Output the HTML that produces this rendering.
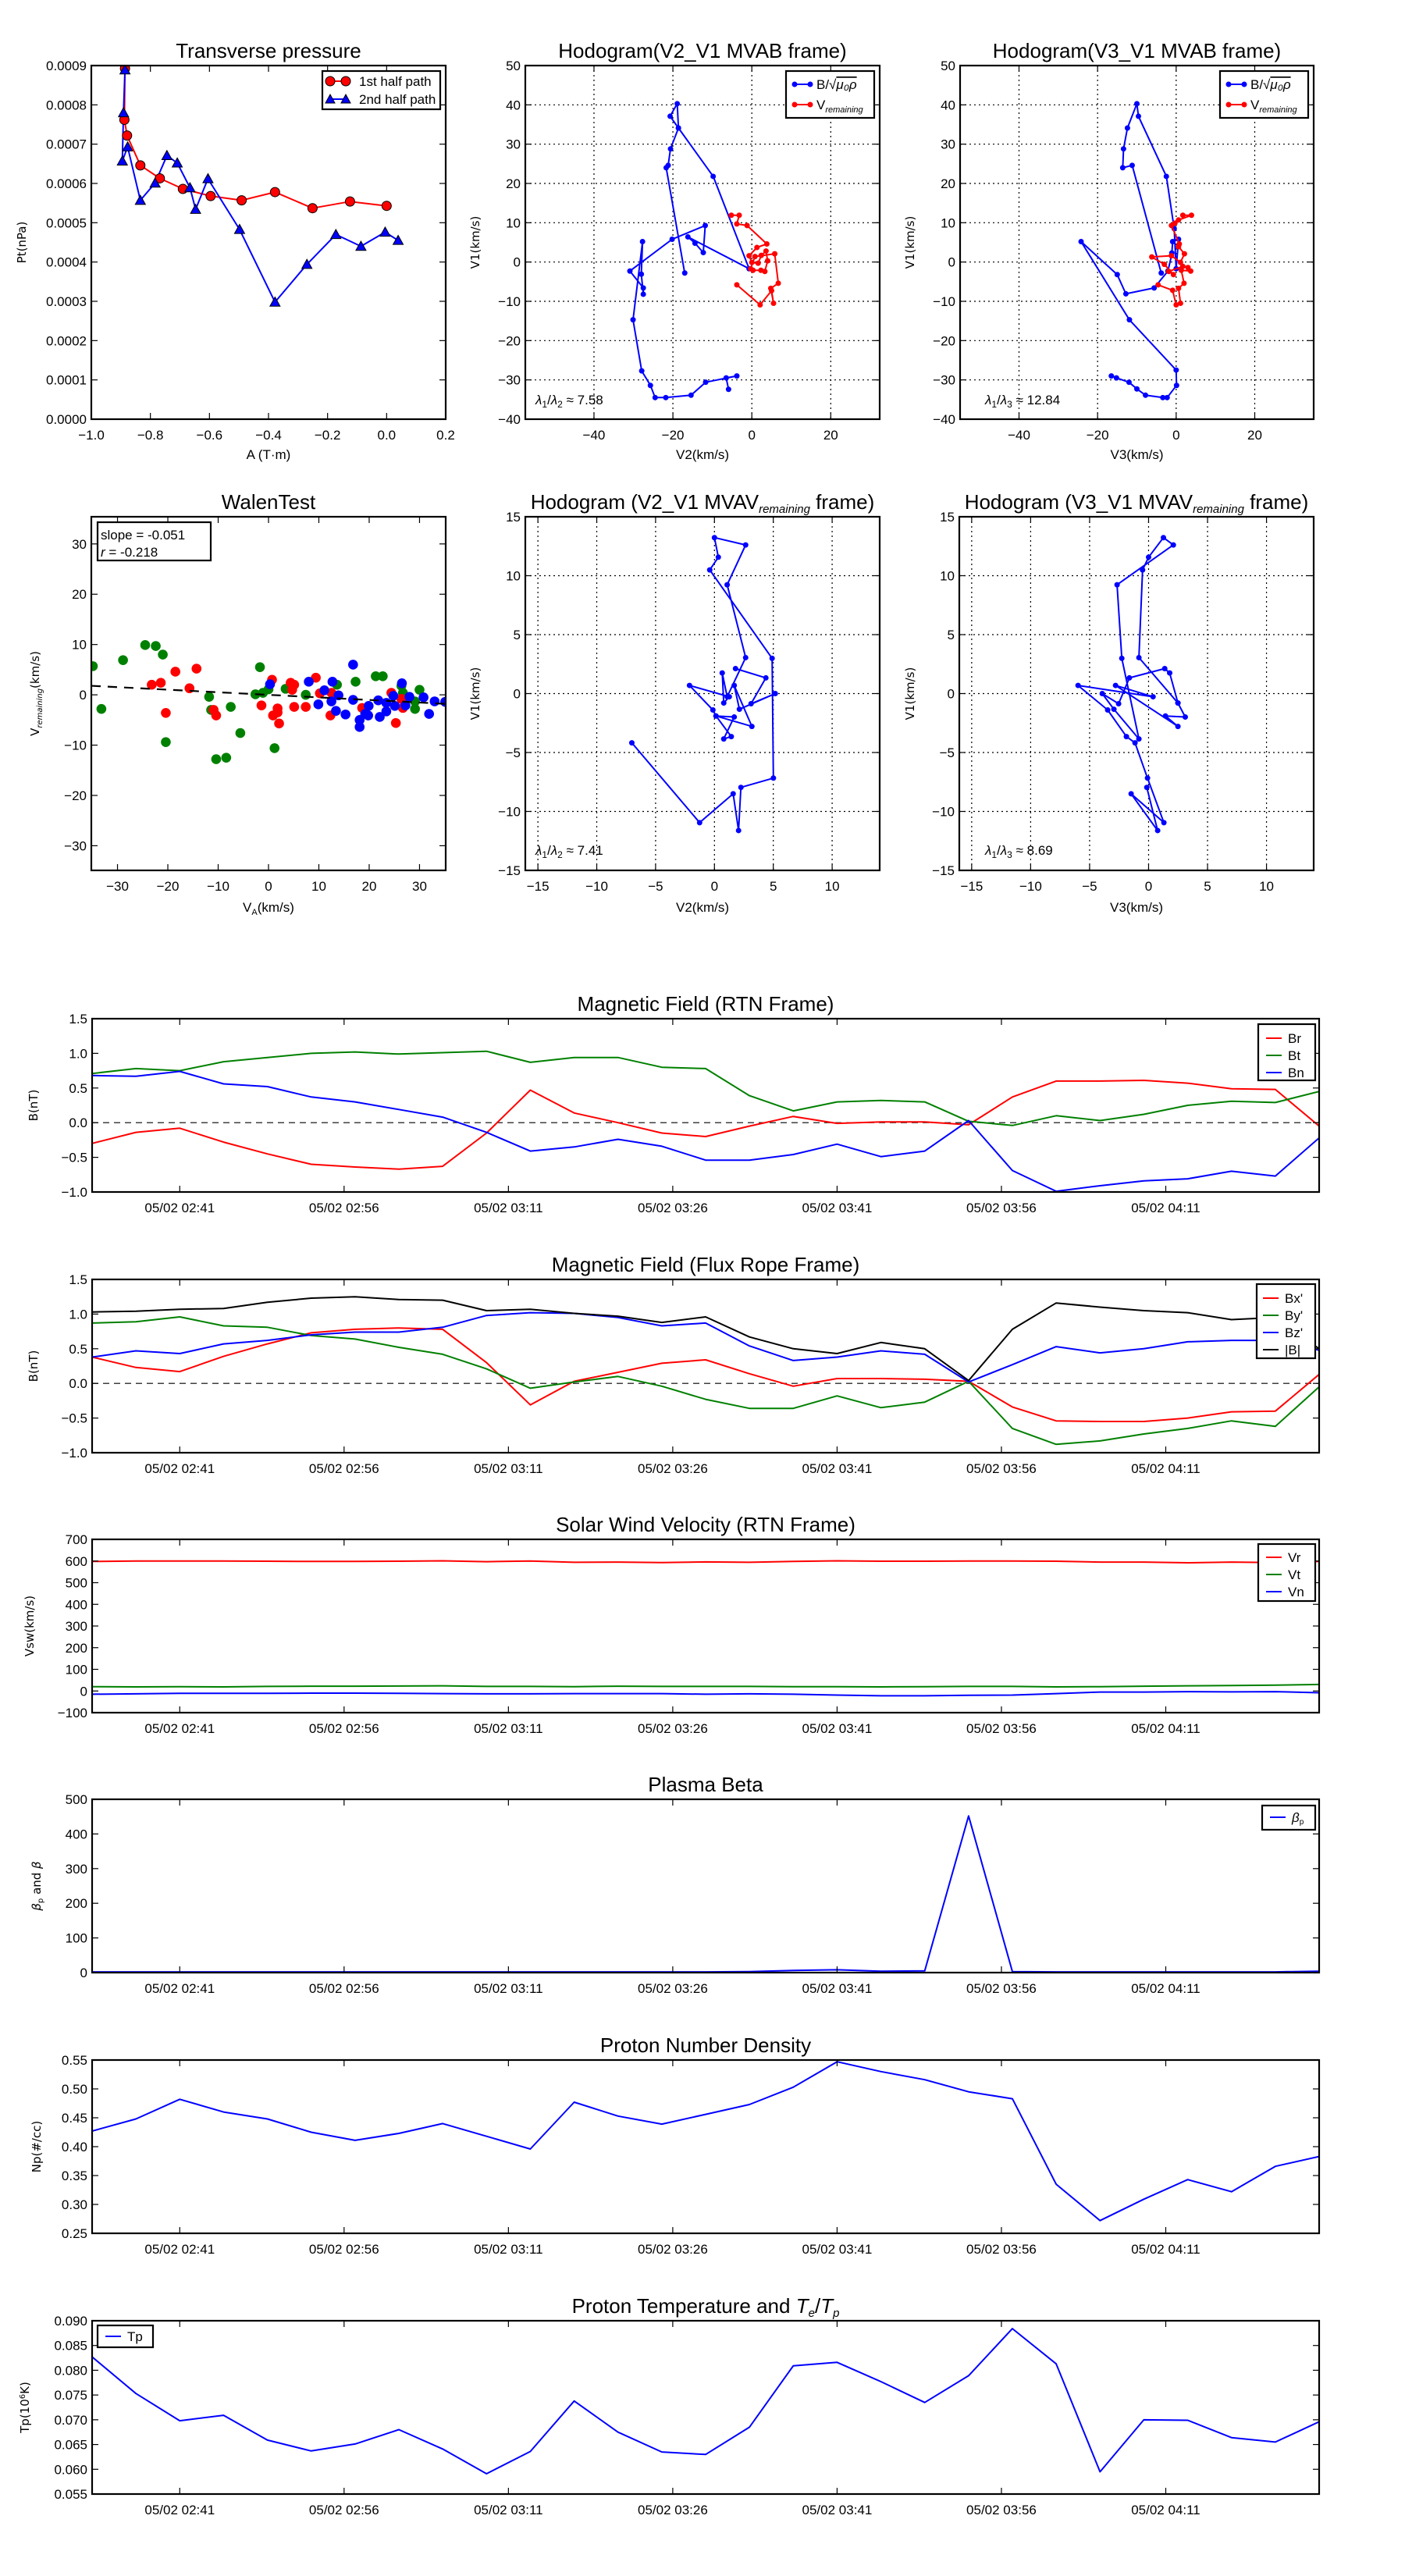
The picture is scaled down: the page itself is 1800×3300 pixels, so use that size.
<!DOCTYPE html>
<html><head><meta charset="utf-8"><title>Flux rope analysis</title>
<style>
html,body{margin:0;padding:0;background:#fff;}
svg{display:block;}
.tk{font-family:"Liberation Sans Narrow","Liberation Sans",sans-serif;font-size:17px;fill:#000;}
.ttl{font-family:"Liberation Sans Narrow","Liberation Sans",sans-serif;font-size:26px;fill:#000;}
.lbl{font-family:"DejaVu Sans","Liberation Sans",sans-serif;font-size:15px;fill:#000;}
.lg{font-family:"Liberation Sans Narrow","Liberation Sans",sans-serif;font-size:17px;fill:#000;}
</style></head>
<body>
<svg id="fig" xmlns="http://www.w3.org/2000/svg" width="1800" height="3300" viewBox="0 0 1800 3300">
<rect x="0" y="0" width="1800" height="3300" fill="#fff"/>
</svg>
<script>
// ---------- DATA ----------
const ptRedA=[-0.886,-0.888,-0.879,-0.834,-0.768,-0.690,-0.596,-0.491,-0.378,-0.251,-0.124,0.0];
const ptRedP=[0.000893,0.000762,0.000722,0.000646,0.000613,0.000586,0.000568,0.000557,0.000578,0.000537,0.000554,0.000543];
const ptBlueA=[-0.886,-0.891,-0.895,-0.877,-0.834,-0.784,-0.744,-0.709,-0.666,-0.647,-0.605,-0.498,-0.378,-0.270,-0.172,-0.087,-0.005,0.039];
const ptBlueP=[0.000889,0.000780,0.000657,0.000693,0.000557,0.000601,0.000671,0.000652,0.000589,0.000534,0.000612,0.000483,0.000298,0.000394,0.000470,0.000440,0.000476,0.000455];

const h1Bx=[-17.0,-21.7,-21.2,-20.6,-18.6,-18.9,-20.7,-18.6,-9.8,-0.7,-16.2,-14.4,-12.3,-11.8,-20.2,-30.9,-27.5,-27.5,-28.0,-27.7,-30.1,-27.9,-25.7,-24.5,-21.8,-15.4,-11.7,-3.8,-6.5,-5.9];
const h1By=[-2.8,24.0,24.6,28.8,34.1,40.3,37.1,34.1,21.8,-1.7,6.4,4.8,2.4,9.3,5.8,-2.3,-6.6,-8.2,-3.1,5.2,-14.7,-27.7,-31.4,-34.5,-34.5,-33.9,-30.6,-29.0,-29.5,-32.4];
const h1Vx=[-5.2,-3.2,-3.8,-1.2,3.8,1.3,-0.7,0.0,1.6,2.4,3.6,4.0,3.3,2.3,0.3,-0.3,0.8,5.8,6.7,4.8,5.5,5.0,2.1,-3.8];
const h1Vy=[11.9,11.9,9.7,9.3,4.6,3.7,1.6,-0.1,-0.3,1.7,2.8,0.3,-2.4,-2.1,-2.1,-1.7,1.4,2.1,-5.4,-6.7,-10.5,-7.3,-10.9,-5.8];

const h2Bx=[-16.5,-15.2,-12.0,-10.0,-7.8,-3.4,-2.3,0.1,0.0,-11.9,-24.2,-15.0,-12.8,-5.6,-2.1,-1.2,-1.1,-0.9,0.6,0.0,-0.5,-2.5,-9.6,-10.0,-12.4,-13.4,-13.6,-11.2,-3.8];
const h2By=[-29.0,-29.5,-30.6,-32.3,-33.9,-34.5,-34.5,-31.4,-27.5,-14.7,5.2,-3.2,-8.1,-6.6,-2.3,1.6,2.3,5.2,5.8,-1.7,8.5,21.8,37.1,40.3,34.1,28.8,24.0,24.6,-2.8];
const h2Vx=[1.7,3.9,0.6,-0.3,-1.2,0.8,0.6,2.1,1.1,-1.2,-6.2,-3.0,-0.7,-1.9,1.7,3.0,3.7,1.3,2.0,0.6,1.1,0.0,-0.9,-4.6];
const h2Vy=[11.9,11.9,10.7,9.9,9.3,4.6,3.9,2.1,-0.1,1.6,1.3,-0.6,-3.2,-2.4,-1.1,-1.4,-2.3,-2.1,-5.4,-6.7,-10.5,-10.9,-7.2,-5.8];

const wGx=[-34.9,-33.2,-28.9,-24.5,-22.4,-21.0,-20.4,-11.8,-11.4,-10.4,-8.4,-7.5,-5.6,-2.6,-1.7,-1.1,0.0,1.2,3.4,7.4,13.6,17.3,21.3,22.7,26.4,26.7,29.1,29.1,30.0];
const wGy=[5.7,-2.8,6.9,9.9,9.7,8.0,-9.4,-0.4,-3.0,-12.8,-12.5,-2.4,-7.6,0.1,5.5,0.4,1.1,-10.6,1.2,0.0,2.0,2.6,3.7,3.7,1.8,0.4,-1.3,-2.8,1.0];
const wRx=[-23.2,-21.4,-20.4,-18.5,-15.7,-14.3,-10.9,-10.4,-1.4,0.7,0.9,1.8,1.8,2.1,4.4,4.7,5.1,5.1,7.4,9.4,10.2,12.3,12.5,18.6,24.4,25.3,26.4,26.7];
const wRy=[2.0,2.4,-3.6,4.6,1.3,5.2,-3.0,-4.1,-2.1,3.0,-4.1,-2.7,-3.5,-5.7,2.4,1.0,2.0,-2.4,-2.4,3.4,0.3,-4.1,0.4,-2.6,0.4,-5.6,-0.8,-2.6];
const wBx=[0.3,8.0,9.9,11.1,12.5,12.7,13.4,13.9,15.3,16.8,16.8,18.1,18.1,19.2,19.8,19.9,21.8,22.1,23.4,23.4,24.8,25.1,26.5,27.2,28.0,30.8,31.9,33.0,35.1];
const wBy=[2.1,2.6,-1.9,0.9,-1.3,2.6,-3.2,-0.1,-3.9,6.0,-1.0,-5.0,-6.4,-3.8,-4.1,-2.2,-1.1,-4.4,-1.6,-3.3,-0.2,-2.2,2.3,-2.1,-0.4,-0.5,-3.8,-1.3,-1.4];
const wSlope=-0.051;
const wIntercept=0.0;

const h3x=[-7.02,-1.26,1.59,2.05,2.25,5.01,4.90,-0.40,0.33,0.00,2.65,1.08,2.65,1.08,0.66,0.79,1.26,-2.12,-0.13,0.13,1.43,0.79,1.68,0.13,3.18,1.68,2.12,5.17,3.11,4.37,1.79];
const h3y=[-4.18,-10.95,-8.50,-11.62,-7.96,-7.17,2.99,10.49,11.57,13.23,12.61,9.23,3.05,-0.27,1.75,-0.80,-0.27,0.69,-1.39,-1.90,-3.65,-3.85,-1.99,-1.90,-2.79,0.69,-1.33,0.0,-0.86,1.33,2.12];
const h4x=[-0.15,0.77,-1.48,1.30,-0.09,-1.15,-1.88,-3.47,-5.98,0.38,-2.80,2.49,1.43,3.11,2.49,1.79,1.37,-1.63,-2.54,-3.93,-2.94,-0.82,-2.27,-2.67,2.10,1.26,0.00,-0.51,-0.82,2.49];
const h4y=[-7.96,-11.62,-8.50,-10.95,-7.17,-4.18,-3.65,-1.39,0.69,-0.27,0.69,-2.79,-1.90,-1.99,-0.80,1.75,2.12,1.33,-0.86,0.0,-1.33,-3.85,2.99,9.23,12.61,13.23,11.57,10.49,3.05,-0.80];

const times=[0,4,8,12,16,20,24,28,32,36,40,44,48,52,56,60,64,68,72,76,80,84,88,92,96,100,104,108,112];
const timeTicks=[8,23,38,53,68,83,98];
const timeLabels=["05/02 02:41","05/02 02:56","05/02 03:11","05/02 03:26","05/02 03:41","05/02 03:56","05/02 04:11"];

const Br=[-0.3,-0.14,-0.08,-0.28,-0.45,-0.6,-0.64,-0.67,-0.63,-0.15,0.47,0.14,0.0,-0.15,-0.2,-0.05,0.09,-0.01,0.01,0.01,-0.03,0.37,0.6,0.6,0.61,0.57,0.49,0.48,-0.05];
const Bt=[0.71,0.78,0.75,0.88,0.94,1.0,1.02,0.99,1.01,1.03,0.87,0.94,0.94,0.8,0.78,0.39,0.17,0.3,0.32,0.3,0.02,-0.04,0.1,0.03,0.12,0.25,0.31,0.29,0.45];
const Bn=[0.68,0.67,0.74,0.56,0.52,0.37,0.3,0.19,0.08,-0.14,-0.41,-0.35,-0.24,-0.34,-0.54,-0.54,-0.46,-0.31,-0.49,-0.41,0.03,-0.69,-0.99,-0.91,-0.84,-0.81,-0.7,-0.77,-0.22];

const Bxp=[0.38,0.23,0.17,0.39,0.57,0.73,0.78,0.8,0.78,0.3,-0.31,0.03,0.16,0.29,0.34,0.14,-0.04,0.07,0.07,0.06,0.03,-0.34,-0.54,-0.55,-0.55,-0.5,-0.41,-0.4,0.13];
const Byp=[0.87,0.89,0.96,0.83,0.81,0.69,0.64,0.52,0.42,0.21,-0.07,0.02,0.1,-0.04,-0.23,-0.36,-0.36,-0.18,-0.35,-0.27,0.03,-0.65,-0.88,-0.83,-0.73,-0.65,-0.54,-0.62,-0.05];
const Bzp=[0.38,0.47,0.43,0.57,0.62,0.7,0.74,0.74,0.81,0.98,1.02,1.01,0.95,0.83,0.87,0.54,0.33,0.38,0.47,0.42,0.02,0.27,0.53,0.44,0.5,0.6,0.62,0.62,0.48];
const Bmag=[1.03,1.04,1.07,1.08,1.17,1.23,1.25,1.21,1.2,1.05,1.07,1.01,0.97,0.88,0.96,0.67,0.5,0.43,0.59,0.5,0.04,0.78,1.16,1.1,1.05,1.02,0.92,0.95,0.5];

const Vr=[598,600,600,600,599,598,598,599,601,597,600,594,595,593,596,594,598,601,599,599,600,600,599,595,595,592,595,593,598];
const Vt=[20,19,20,19,21,22,22,23,24,21,21,20,22,21,21,21,20,20,19,20,21,21,19,20,22,24,25,27,30];
const Vn=[-15,-13,-11,-11,-11,-10,-10,-11,-12,-13,-13,-12,-12,-12,-15,-13,-15,-19,-22,-22,-20,-19,-12,-5,-5,-3,-4,-3,-8];

const betaP=[2,2,2,2,2,2,2,2,2,2,2,2,2,2,2,3,6,8,4,5,452,3,2,2,2,2,2,2,4];
const Np=[0.427,0.448,0.482,0.46,0.448,0.425,0.411,0.423,0.44,0.418,0.396,0.477,0.453,0.439,0.456,0.473,0.503,0.547,0.53,0.516,0.495,0.483,0.335,0.272,0.309,0.343,0.322,0.366,0.383];
const Tp=[0.0827,0.0753,0.0698,0.0709,0.0659,0.0637,0.0651,0.0680,0.0641,0.0591,0.0636,0.0738,0.0675,0.0635,0.0630,0.0685,0.0809,0.0816,0.0777,0.0735,0.0789,0.0884,0.0813,0.0595,0.0700,0.0699,0.0664,0.0655,0.0696];

// ---------- HELPERS ----------
const NS="http://www.w3.org/2000/svg";
const fig=document.getElementById('fig');
function el(tag,attrs,parent){const e=document.createElementNS(NS,tag);for(const k in attrs)e.setAttribute(k,attrs[k]);(parent||fig).appendChild(e);return e;}
function fmt(v,d){const s=Math.abs(v).toFixed(d);return (v<-1e-12?'\u2212':'')+s;}

function axes(c){
  const g=el('g',{});
  
  
  const sx=v=>c.x0+(v-c.xmin)/(c.xmax-c.xmin)*c.w;
  const sy=v=>c.y0+c.h-(v-c.ymin)/(c.ymax-c.ymin)*c.h;
  if(c.grid){
    c.xt.forEach(v=>{const l=el('line',{x1:sx(v),x2:sx(v),y1:c.y0,y2:c.y0+c.h,stroke:'#000','stroke-width':1.2,'stroke-dasharray':'2,4'},g);
      
      });
    c.yt.forEach(v=>{const l=el('line',{x1:c.x0,x2:c.x0+c.w,y1:sy(v),y2:sy(v),stroke:'#000','stroke-width':1.2,'stroke-dasharray':'2,4'},g);
      
      });
  }
  const clip=el('clipPath',{id:'clip-'+c.name},g);
  el('rect',{x:c.x0,y:c.y0,width:c.w,height:c.h},clip);
  const plot=el('g',{'clip-path':'url(#clip-'+c.name+')'},g);
  
  
  c.xt.forEach((v,i)=>{
    const X=sx(v);
    el('line',{x1:X,x2:X,y1:c.y0+c.h,y2:c.y0+c.h-8,stroke:'#000','stroke-width':1.2},g);
    el('line',{x1:X,x2:X,y1:c.y0,y2:c.y0+8,stroke:'#000','stroke-width':1.2},g);
    const t=el('text',{x:X,y:c.y0+c.h+26,'text-anchor':'middle',class:'tk'},g);
    t.textContent=c.xl[i];
    
    
  });
  c.yt.forEach((v,i)=>{
    const Y=sy(v);
    el('line',{x1:c.x0,x2:c.x0+8,y1:Y,y2:Y,stroke:'#000','stroke-width':1.2},g);
    el('line',{x1:c.x0+c.w,x2:c.x0+c.w-8,y1:Y,y2:Y,stroke:'#000','stroke-width':1.2},g);
    const t=el('text',{x:c.x0-6,y:Y+6,'text-anchor':'end',class:'tk'},g);
    t.textContent=c.yl[i];
    
    
  });
  const fr=el('rect',{x:c.x0,y:c.y0,width:c.w,height:c.h,fill:'none',stroke:'#000','stroke-width':2.2},g);
  
  
  if(c.title){const t=el('text',{x:c.x0+c.w/2,y:c.y0-10,'text-anchor':'middle',class:'ttl'},g);
    t.innerHTML=c.title;
    
    }
  if(c.xlabel){const t=el('text',{x:c.x0+c.w/2,y:c.xly,'text-anchor':'middle',class:'tk'},g);
    t.innerHTML=c.xlabel;
    
    }
  if(c.ylabel){const cy=c.y0+c.h/2;const t=el('text',{x:c.ylx,y:cy,'text-anchor':'middle',class:'lbl',transform:'rotate(-90 '+c.ylx+' '+cy+')'},g);
    t.innerHTML=c.ylabel;
    
    }
  return {sx,sy,g:plot,root:g};
}
function polyline(ax,xs,ys,color,name,w){
  const pts=xs.map((x,i)=>ax.sx(x).toFixed(1)+','+ax.sy(ys[i]).toFixed(1)).join(' ');
  const p=el('polyline',{points:pts,fill:'none',stroke:color,'stroke-width':w||2,'stroke-linejoin':'round'},ax.g);
  
  
  return p;
}
function dots(ax,xs,ys,color,r,name,stroke){
  xs.forEach((x,i)=>{
    const d=el('circle',{cx:ax.sx(x),cy:ax.sy(ys[i]),r:r,fill:color,stroke:stroke||'none','stroke-width':1},ax.g);
    
    
  });
}
function tris(ax,xs,ys,color,s,name){
  xs.forEach((x,i)=>{
    const X=ax.sx(x),Y=ax.sy(ys[i]);
    const t=el('polygon',{points:`${X},${Y-s} ${X-s},${Y+s*0.8} ${X+s},${Y+s*0.8}`,fill:color,stroke:'#000','stroke-width':1},ax.g);
    
    
  });
}
function legendBox(x,y,w,h,name){
  const r=el('rect',{x:x,y:y,width:w,height:h,fill:'#fff',stroke:'#000','stroke-width':2.2});
  
  
}
function legendEntry(x,y,color,label,marker){
  el('line',{x1:x,x2:x+20,y1:y,y2:y,stroke:color,'stroke-width':2});
  if(marker==='dot'){el('circle',{cx:x,cy:y,r:3.5,fill:color});el('circle',{cx:x+20,cy:y,r:3.5,fill:color});}
  const t=el('text',{x:x+28,y:y+6,class:'lg'});
  t.innerHTML=label;
  
  
}

// ---------- TOP ROW ----------
const a1=axes({name:'transverse-pressure-chart',x0:117,y0:84,w:454,h:453,xmin:-1,xmax:0.2,ymin:0,ymax:0.0009,
  xt:[-1,-0.8,-0.6,-0.4,-0.2,0,0.2],xl:['\u22121.0','\u22120.8','\u22120.6','\u22120.4','\u22120.2','0.0','0.2'],
  yt:[0,0.0001,0.0002,0.0003,0.0004,0.0005,0.0006,0.0007,0.0008,0.0009],
  yl:['0.0000','0.0001','0.0002','0.0003','0.0004','0.0005','0.0006','0.0007','0.0008','0.0009'],
  title:'Transverse pressure',xlabel:'A (T\u00b7m)',xly:588,ylabel:'Pt(nPa)',ylx:33});
polyline(a1,ptRedA,ptRedP,'#f00','first-half-path-line',2);
polyline(a1,ptBlueA,ptBlueP,'#00f','second-half-path-line',2);
dots(a1,ptRedA,ptRedP,'#f00',6,'first-half-marker','#000');
tris(a1,ptBlueA,ptBlueP,'#00f',6.5,'second-half-marker');
legendBox(413,91,151,49,'pressure-legend');
el('line',{x1:423,x2:443,y1:104,y2:104,stroke:'#f00','stroke-width':2});
el('circle',{cx:423,cy:104,r:6,fill:'#f00',stroke:'#000'});el('circle',{cx:443,cy:104,r:6,fill:'#f00',stroke:'#000'});
{const t=el('text',{x:460,y:110,class:'lg'});t.textContent='1st half path';

}
el('line',{x1:423,x2:443,y1:127,y2:127,stroke:'#00f','stroke-width':2});
el('polygon',{points:'423,121 417,132 429,132',fill:'#00f',stroke:'#000'});el('polygon',{points:'443,121 437,132 449,132',fill:'#00f',stroke:'#000'});
{const t=el('text',{x:460,y:133,class:'lg'});t.textContent='2nd half path';

}

const hodoTicksY=[-40,-30,-20,-10,0,10,20,30,40,50];
const hodoLblY=hodoTicksY.map(v=>fmt(v,0));
const a2=axes({name:'hodogram-v2-v1-mvab',x0:673,y0:84,w:454,h:453,xmin:-57.4,xmax:32.4,ymin:-40,ymax:50,grid:true,
  xt:[-40,-20,0,20],xl:['\u221240','\u221220','0','20'],yt:hodoTicksY,yl:hodoLblY,
  title:'Hodogram(V2_V1 MVAB frame)',xlabel:'V2(km/s)',xly:588,ylabel:'V1(km/s)',ylx:614});
polyline(a2,h1Bx,h1By,'#00f','b-hodogram-line',2);dots(a2,h1Bx,h1By,'#00f',3.5,'b-hodogram-point');
polyline(a2,h1Vx,h1Vy,'#f00','v-hodogram-line',2);dots(a2,h1Vx,h1Vy,'#f00',3.5,'v-hodogram-point');
const a3=axes({name:'hodogram-v3-v1-mvab',x0:1230,y0:84,w:453,h:453,xmin:-55,xmax:35,ymin:-40,ymax:50,grid:true,
  xt:[-40,-20,0,20],xl:['\u221240','\u221220','0','20'],yt:hodoTicksY,yl:hodoLblY,
  title:'Hodogram(V3_V1 MVAB frame)',xlabel:'V3(km/s)',xly:588,ylabel:'V1(km/s)',ylx:1171});
polyline(a3,h2Bx,h2By,'#00f','b-hodogram-line',2);dots(a3,h2Bx,h2By,'#00f',3.5,'b-hodogram-point');
polyline(a3,h2Vx,h2Vy,'#f00','v-hodogram-line',2);dots(a3,h2Vx,h2Vy,'#f00',3.5,'v-hodogram-point');
[[1007,91],[1563,91]].forEach(p=>{
  legendBox(p[0],p[1],113,60,'hodogram-legend');
  legendEntry(p[0]+11,p[1]+17,'#00f','B/\u221a<tspan font-style="italic" text-decoration="overline">\u03bc\u2080\u03c1</tspan>','dot');
  legendEntry(p[0]+11,p[1]+43,'#f00','V<tspan font-size="11" font-style="italic" dy="4">remaining</tspan>','dot');
});
{const t=el('text',{x:686,y:518,class:'lg','font-size':'19'});t.innerHTML='<tspan font-style="italic">\u03bb</tspan><tspan font-size="12" dy="4">1</tspan><tspan dy="-4">/</tspan><tspan font-style="italic">\u03bb</tspan><tspan font-size="12" dy="4">2</tspan><tspan dy="-4"> \u2248 7.58</tspan>';

}
{const t=el('text',{x:1262,y:518,class:'lg','font-size':'19'});t.innerHTML='<tspan font-style="italic">\u03bb</tspan><tspan font-size="12" dy="4">1</tspan><tspan dy="-4">/</tspan><tspan font-style="italic">\u03bb</tspan><tspan font-size="12" dy="4">3</tspan><tspan dy="-4"> \u2248 12.84</tspan>';

}

// ---------- SECOND ROW ----------
const a4=axes({name:'walen-test-chart',x0:117,y0:662,w:454,h:453,xmin:-35.2,xmax:35.2,ymin:-34.9,ymax:35.4,
  xt:[-30,-20,-10,0,10,20,30],xl:['\u221230','\u221220','\u221210','0','10','20','30'],
  yt:[-30,-20,-10,0,10,20,30],yl:['\u221230','\u221220','\u221210','0','10','20','30'],
  title:'WalenTest',xlabel:'V<tspan font-size="11" dy="4">A</tspan><tspan dy="-4">(km/s)</tspan>',xly:1168,
  ylabel:'V<tspan font-size="10" font-style="italic" dy="4">remaining</tspan><tspan dy="-4">(km/s)</tspan>',ylx:50});
dots(a4,wGx,wGy,'#008000',6.3,'walen-point-green');
dots(a4,wRx,wRy,'#f00',6.3,'walen-point-red');
dots(a4,wBx,wBy,'#00f',6.3,'walen-point-blue');
{const fx=[-35.2,35.2];const fy=fx.map(x=>wSlope*x+wIntercept);
const l=el('line',{x1:a4.sx(fx[0]),y1:a4.sy(fy[0]),x2:a4.sx(fx[1]),y2:a4.sy(fy[1]),stroke:'#000','stroke-width':2.2,'stroke-dasharray':'12,9'},a4.g);

}
legendBox(125,669,145,49,'walen-stats-box');
{const t=el('text',{x:129,y:691,class:'lg','font-size':'19'});t.textContent='slope = -0.051';

}
{const t=el('text',{x:129,y:713,class:'lg','font-size':'19'});t.innerHTML='<tspan font-style="italic">r</tspan> = -0.218';

}

const rTicks=[-15,-10,-5,0,5,10,15];const rLbl=rTicks.map(v=>fmt(v,0));
const a5=axes({name:'hodogram-v2-v1-mvav',x0:673,y0:662,w:454,h:453,xmin:-16.07,xmax:14.04,ymin:-15,ymax:15,grid:true,
  xt:[-15,-10,-5,0,5,10],xl:rLbl.slice(0,6),yt:rTicks,yl:rLbl,
  title:'Hodogram (V2_V1 MVAV<tspan font-size="15" font-style="italic" dy="5">remaining</tspan><tspan dy="-5"> frame)</tspan>',
  xlabel:'V2(km/s)',xly:1168,ylabel:'V1(km/s)',ylx:614});
polyline(a5,h3x,h3y,'#00f','mvav-hodogram-line',2);dots(a5,h3x,h3y,'#00f',3.5,'mvav-hodogram-point');
const a6=axes({name:'hodogram-v3-v1-mvav',x0:1229,y0:662,w:454,h:453,xmin:-16.05,xmax:14.0,ymin:-15,ymax:15,grid:true,
  xt:[-15,-10,-5,0,5,10],xl:rLbl.slice(0,6),yt:rTicks,yl:rLbl,
  title:'Hodogram (V3_V1 MVAV<tspan font-size="15" font-style="italic" dy="5">remaining</tspan><tspan dy="-5"> frame)</tspan>',
  xlabel:'V3(km/s)',xly:1168,ylabel:'V1(km/s)',ylx:1171});
polyline(a6,h4x,h4y,'#00f','mvav-hodogram-line',2);dots(a6,h4x,h4y,'#00f',3.5,'mvav-hodogram-point');
{const t=el('text',{x:686,y:1095,class:'lg','font-size':'19'});t.innerHTML='<tspan font-style="italic">\u03bb</tspan><tspan font-size="12" dy="4">1</tspan><tspan dy="-4">/</tspan><tspan font-style="italic">\u03bb</tspan><tspan font-size="12" dy="4">2</tspan><tspan dy="-4"> \u2248 7.41</tspan>';

}
{const t=el('text',{x:1262,y:1095,class:'lg','font-size':'19'});t.innerHTML='<tspan font-style="italic">\u03bb</tspan><tspan font-size="12" dy="4">1</tspan><tspan dy="-4">/</tspan><tspan font-style="italic">\u03bb</tspan><tspan font-size="12" dy="4">3</tspan><tspan dy="-4"> \u2248 8.69</tspan>';

}

// ---------- TIME SERIES ----------
function tsAxes(name,y0,ymin,ymax,yt,dec,title,ylabel,ylx){
  return axes({name:name,x0:118,y0:y0,w:1572,h:222,xmin:0,xmax:112,ymin:ymin,ymax:ymax,
    xt:timeTicks,xl:timeLabels,yt:yt,yl:yt.map(v=>fmt(v,dec)),title:title,ylabel:ylabel,ylx:ylx});
}
function zeroLine(ax){const l=el('line',{x1:ax.sx(0),x2:ax.sx(112),y1:ax.sy(0),y2:ax.sy(0),stroke:'#000','stroke-width':1.2,'stroke-dasharray':'8,6'},ax.g);
  
  }
const bT=[-1,-0.5,0,0.5,1,1.5];
const b1=tsAxes('magnetic-field-rtn-chart',1305,-1,1.5,bT,1,'Magnetic Field (RTN Frame)','B(nT)',48);
zeroLine(b1);
polyline(b1,times,Br,'#f00','br-line');polyline(b1,times,Bt,'#008000','bt-line');polyline(b1,times,Bn,'#00f','bn-line');
legendBox(1612,1312,73,72,'rtn-legend');
legendEntry(1622,1330,'#f00','Br');legendEntry(1622,1352,'#008000','Bt');legendEntry(1622,1374,'#00f','Bn');

const b2=tsAxes('magnetic-field-flux-rope-chart',1639,-1,1.5,bT,1,'Magnetic Field (Flux Rope Frame)','B(nT)',48);
zeroLine(b2);
polyline(b2,times,Bxp,'#f00','bx-prime-line');polyline(b2,times,Byp,'#008000','by-prime-line');
polyline(b2,times,Bzp,'#00f','bz-prime-line');polyline(b2,times,Bmag,'#000','b-magnitude-line');
legendBox(1610,1645,75,95,'flux-rope-legend');
legendEntry(1618,1663,'#f00',"Bx'");legendEntry(1618,1685,'#008000',"By'");legendEntry(1618,1707,'#00f',"Bz'");legendEntry(1618,1729,'#000','|B|');

const b3=tsAxes('solar-wind-velocity-chart',1972,-100,700,[-100,0,100,200,300,400,500,600,700],0,'Solar Wind Velocity (RTN Frame)','Vsw(km/s)',43);
polyline(b3,times,Vr,'#f00','vr-line');polyline(b3,times,Vt,'#008000','vt-line');polyline(b3,times,Vn,'#00f','vn-line');
legendBox(1612,1978,73,73,'velocity-legend');
legendEntry(1622,1995,'#f00','Vr');legendEntry(1622,2017,'#008000','Vt');legendEntry(1622,2039,'#00f','Vn');

const b4=tsAxes('plasma-beta-chart',2305,0,500,[0,100,200,300,400,500],0,'Plasma Beta','<tspan font-style="italic">\u03b2</tspan><tspan font-size="10" dy="3">p</tspan><tspan dy="-3"> and </tspan><tspan font-style="italic">\u03b2</tspan>',52);
polyline(b4,times,betaP,'#00f','beta-p-line');
legendBox(1617,2313,68,31,'beta-legend');
legendEntry(1627,2328,'#00f','<tspan font-style="italic">\u03b2</tspan><tspan font-size="10" dy="3">p</tspan>');

const b5=tsAxes('proton-density-chart',2639,0.25,0.55,[0.25,0.30,0.35,0.40,0.45,0.50,0.55],2,'Proton Number Density','Np(#/cc)',52);
polyline(b5,times,Np,'#00f','np-line');

const b6=tsAxes('proton-temperature-chart',2973,0.055,0.090,[0.055,0.060,0.065,0.070,0.075,0.080,0.085,0.090],3,
  'Proton Temperature and <tspan font-style="italic">T</tspan><tspan font-size="15" font-style="italic" dy="5">e</tspan><tspan dy="-5">/</tspan><tspan font-style="italic">T</tspan><tspan font-size="15" font-style="italic" dy="5">p</tspan>',
  'Tp(10<tspan font-size="10" dy="-5">6</tspan><tspan dy="5">K)</tspan>',37);
polyline(b6,times,Tp,'#00f','tp-line');
legendBox(125,2979,71,28,'temperature-legend');
legendEntry(135,2993,'#00f','Tp');
</script>
</body></html>
